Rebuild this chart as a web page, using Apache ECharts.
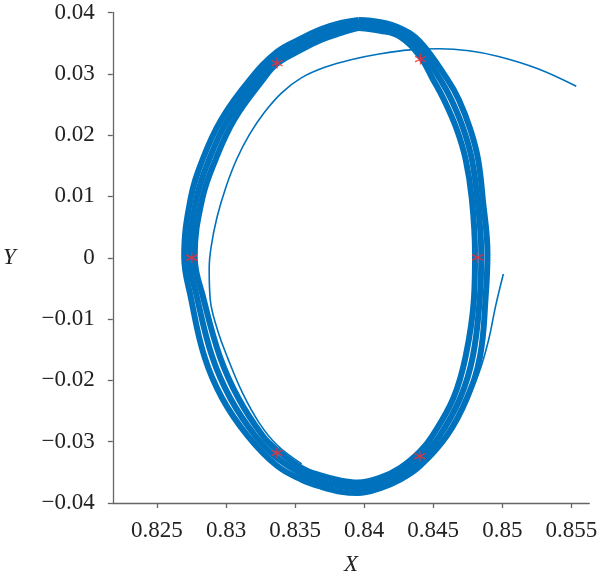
<!DOCTYPE html>
<html>
<head>
<meta charset="utf-8">
<script src="https://cdn.jsdelivr.net/npm/echarts@6/dist/echarts.min.js"></script>
<style>html,body{margin:0;padding:0;background:#fff}#c{width:600px;height:581px}</style>
</head>
<body>
<div id="c"></div>
<script>
// x tick labels and y range
const xTicks = [0.825, 0.83, 0.835, 0.84, 0.845, 0.85, 0.855];
const yTicks = [-0.04, -0.03, -0.02, -0.01, 0, 0.01, 0.02, 0.03, 0.04];

// limit cycle band: outer, middle and inner strands
const loopOuter = [
  [0.83961,0.03878],[0.83833,0.03830],[0.83690,0.03729],[0.83548,0.03580],[0.83369,0.03357],
  [0.83173,0.02904],[0.82966,0.02255],[0.82831,0.01606],[0.82743,0.00956],[0.82697,0.00015],
  [0.82747,-0.00667],[0.82843,-0.01609],[0.82972,-0.02291],[0.83158,-0.02908],[0.83369,-0.03393],
  [0.83548,-0.03620],[0.83690,-0.03737],[0.83833,-0.03818],[0.83954,-0.03838],[0.84118,-0.03757],
  [0.84260,-0.03620],[0.84403,-0.03399],[0.84597,-0.02908],[0.84744,-0.02291],[0.84839,-0.01609],
  [0.84879,-0.00667],[0.84893,0.00063],[0.84859,0.00956],[0.84825,0.01606],[0.84769,0.02093],
  [0.84685,0.02580],[0.84604,0.02904],[0.84403,0.03526],[0.84260,0.03745],[0.84118,0.03843],
  [0.83961,0.03878]
];
const loopMiddle = [
  [0.83961,0.03813],[0.83833,0.03748],[0.83690,0.03643],[0.83548,0.03489],[0.83369,0.03261],
  [0.83220,0.02904],[0.83013,0.02255],[0.82878,0.01606],[0.82785,0.00956],[0.82735,0.00015],
  [0.82792,-0.00667],[0.82899,-0.01609],[0.83031,-0.02291],[0.83213,-0.02908],[0.83369,-0.03265],
  [0.83548,-0.03524],[0.83690,-0.03646],[0.83833,-0.03727],[0.83954,-0.03752],[0.84118,-0.03671],
  [0.84260,-0.03524],[0.84403,-0.03281],[0.84545,-0.02908],[0.84695,-0.02291],[0.84787,-0.01609],
  [0.84837,-0.00667],[0.84848,0.00063],[0.84820,0.00956],[0.84780,0.01606],[0.84720,0.02093],
  [0.84631,0.02580],[0.84552,0.02904],[0.84403,0.03408],[0.84260,0.03675],[0.84118,0.03773],
  [0.83961,0.03813]
];
const loopInner = [
  [0.83961,0.03748],[0.83833,0.03667],[0.83690,0.03557],[0.83548,0.03398],[0.83369,0.03166],
  [0.83267,0.02904],[0.83060,0.02255],[0.82925,0.01606],[0.82827,0.00956],[0.82773,0.00015],
  [0.82837,-0.00667],[0.82955,-0.01609],[0.83090,-0.02291],[0.83267,-0.02908],[0.83369,-0.03136],
  [0.83548,-0.03429],[0.83690,-0.03555],[0.83833,-0.03636],[0.83954,-0.03666],[0.84118,-0.03585],
  [0.84260,-0.03429],[0.84403,-0.03162],[0.84493,-0.02908],[0.84646,-0.02291],[0.84735,-0.01609],
  [0.84795,-0.00667],[0.84803,0.00063],[0.84780,0.00956],[0.84735,0.01606],[0.84671,0.02093],
  [0.84577,0.02580],[0.84500,0.02904],[0.84403,0.03289],[0.84260,0.03606],[0.84118,0.03703],
  [0.83961,0.03748]
];
// transient arc from the right, joining the cycle at bottom left
const transientArc = [
  [0.85536,0.02796],[0.85258,0.03083],[0.84973,0.03283],[0.84759,0.03375],[0.84545,0.03408],
  [0.84331,0.03391],[0.84118,0.03326],[0.83904,0.03229],[0.83726,0.03115],[0.83548,0.02937],
  [0.83405,0.02693],[0.83277,0.02369],[0.83170,0.02011],[0.83077,0.01606],[0.82999,0.01151],
  [0.82935,0.00664],[0.82892,0.00177],[0.82878,-0.00180],[0.82885,-0.00667],[0.82935,-0.01154],
  [0.83013,-0.01641],[0.83120,-0.02209],[0.83241,-0.02697],[0.83369,-0.03054],[0.83548,-0.03362]
];
// short tail on the right side
const tailSegment = [
  [0.85008,-0.00266],[0.84951,-0.00797],[0.84902,-0.01333],[0.84830,-0.01885],[0.84745,-0.02291],
  [0.84652,-0.02697]
];
// red asterisk markers
const markerX = [0.83369, 0.84408, 0.82752, 0.84820, 0.83369, 0.84403];
const markerY = [0.03175, 0.03240, 0.00000, 0.00005, -0.03184, -0.03237];

const blue = '#0072BD';
const font = 'Liberation Serif';
const asterisk = 'path://M0,-6L0,6M-5.2,-3L5.2,3M-5.2,3L5.2,-3';

function fmtY(v) {
  const a = parseFloat(Math.abs(v).toFixed(4));
  if (a === 0) return '0';
  return (v < 0 ? '\u2212' : '') + String(a);
}

const chart = echarts.init(document.getElementById('c'), null, {renderer: 'canvas'});
const lineSeries = (data, w) => ({
  type: 'line', data: data, showSymbol: false, smooth: 0.4, silent: true,
  lineStyle: {color: blue, width: w}, clip: false, animation: false
});
chart.setOption({
  animation: false,
  backgroundColor: '#fff',
  grid: {left: 108, right: 7, top: 12.5, bottom: 76},
  xAxis: {
    type: 'value', min: 0.8218, max: 0.8563,
    name: 'X', nameLocation: 'middle', nameGap: 50,
    nameTextStyle: {fontFamily: font, fontStyle: 'italic', fontSize: 23, color: '#222'},
    axisLine: {show: true, onZero: false, lineStyle: {color: '#666', width: 1.3}},
    axisTick: {show: true, length: 5, customValues: xTicks, lineStyle: {color: '#666', width: 1.3}},
    axisLabel: {customValues: xTicks, margin: 16, fontFamily: font, fontSize: 23, color: '#222',
      formatter: v => String(parseFloat(v.toFixed(4)))},
    splitLine: {show: false}
  },
  yAxis: {
    type: 'value', min: yTicks[0], max: yTicks[yTicks.length - 1], interval: 0.01,
    name: 'Y', nameLocation: 'middle', nameGap: 97, nameRotate: 0,
    nameTextStyle: {fontFamily: font, fontStyle: 'italic', fontSize: 23, color: '#222'},
    axisLine: {show: true, onZero: false, lineStyle: {color: '#666', width: 1.3}},
    axisTick: {show: true, length: 5, lineStyle: {color: '#666', width: 1.3}},
    axisLabel: {margin: 18, fontFamily: font, fontSize: 23, color: '#222', formatter: fmtY},
    splitLine: {show: false}
  },
  series: [
    lineSeries(loopOuter, 6),
    lineSeries(loopMiddle, 6),
    lineSeries(loopInner, 6),
    lineSeries(transientArc, 1.6),
    lineSeries(tailSegment, 1.6),
    {
      type: 'scatter', silent: true, symbol: asterisk, symbolSize: 11,
      data: markerX.map((x, i) => [x, markerY[i]]),
      itemStyle: {color: 'rgba(0,0,0,0)', borderColor: '#ff2a2a', borderWidth: 1.4},
      z: 10
    }
  ]
});
</script>
</body>
</html>
